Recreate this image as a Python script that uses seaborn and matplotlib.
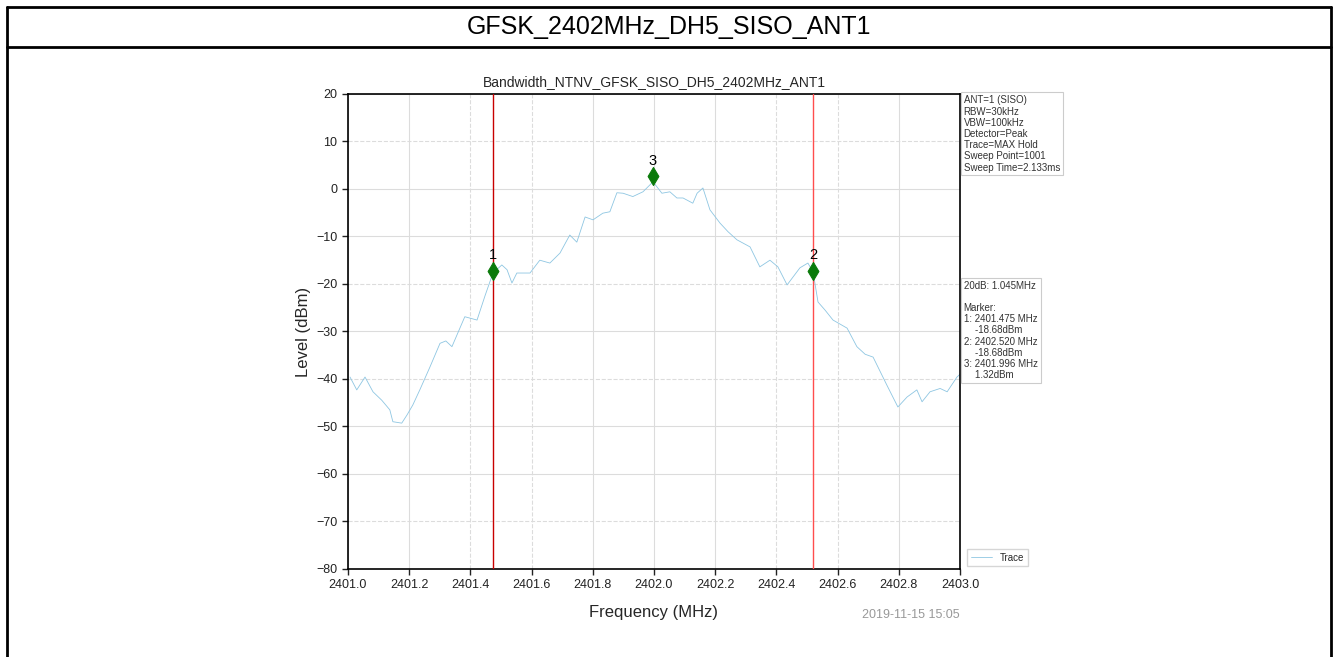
import matplotlib
matplotlib.use('Agg')
import matplotlib.pyplot as plt
import seaborn as sns
import pandas as pd
from matplotlib.lines import Line2D

# trace
freq_mhz = [2401.007, 2401.029, 2401.056, 2401.082, 2401.111, 2401.137, 2401.147, 2401.176,
            2401.193, 2401.212, 2401.235, 2401.268, 2401.301, 2401.320, 2401.340, 2401.382,
            2401.405, 2401.422, 2401.448, 2401.474, 2401.503, 2401.520, 2401.536, 2401.552,
            2401.595, 2401.627, 2401.660, 2401.693, 2401.725, 2401.748, 2401.775, 2401.801,
            2401.833, 2401.856, 2401.879, 2401.899, 2401.931, 2401.964, 2401.997, 2402.026,
            2402.052, 2402.075, 2402.095, 2402.127, 2402.141, 2402.160, 2402.183, 2402.216,
            2402.242, 2402.271, 2402.314, 2402.346, 2402.379, 2402.405, 2402.435, 2402.477,
            2402.503, 2402.520, 2402.536, 2402.559, 2402.585, 2402.631, 2402.663, 2402.690,
            2402.716, 2402.761, 2402.797, 2402.827, 2402.859, 2402.876, 2402.902, 2402.935,
            2402.958, 2402.990, 2403.000]
level_dbm = [-39.6, -42.3, -39.6, -42.7, -44.5, -46.5, -49.0, -49.3,
             -47.6, -45.5, -42.3, -37.5, -32.5, -32.0, -33.2, -26.9,
             -27.3, -27.6, -22.5, -17.7, -16.0, -17.0, -19.8, -17.7,
             -17.7, -15.0, -15.6, -13.5, -9.7, -11.2, -5.9, -6.5,
             -5.1, -4.8, -0.8, -0.9, -1.6, -0.6, 1.5, -0.9,
             -0.6, -1.9, -1.9, -3.0, -0.9, 0.2, -4.4, -7.2,
             -9.0, -10.7, -12.2, -16.4, -15.0, -16.4, -20.2, -16.6,
             -15.6, -17.5, -23.8, -25.5, -27.6, -29.3, -33.2, -34.8,
             -35.4, -41.3, -45.9, -43.8, -42.3, -44.8, -42.7, -42.0,
             -42.7, -39.6, -39.0]

marker_ids = ['1', '2', '3']
marker_freq = [2401.475, 2402.520, 2401.996]
marker_level = [-17.2, -17.2, 2.7]
line_freq = [2401.475, 2402.520]

xticks = [2401.0, 2401.2, 2401.4, 2401.6, 2401.8, 2402.0, 2402.2, 2402.4, 2402.6, 2402.8, 2403.0]
yticks = [20, 10, 0, -10, -20, -30, -40, -50, -60, -70, -80]

header = 'GFSK_2402MHz_DH5_SISO_ANT1'
plot_title = 'Bandwidth_NTNV_GFSK_SISO_DH5_2402MHz_ANT1'
settings_text = ('ANT=1 (SISO)\nRBW=30kHz\nVBW=100kHz\nDetector=Peak\n'
                 'Trace=MAX Hold\nSweep Point=1001\nSweep Time=2.133ms')
marker_text = ('20dB: 1.045MHz\n\nMarker:\n1: 2401.475 MHz\n    -18.68dBm\n'
               '2: 2402.520 MHz\n    -18.68dBm\n3: 2401.996 MHz\n    1.32dBm')
timestamp = '2019-11-15 15:05'

sns.set_theme(style='white')
plt.rcParams['font.family'] = ['Liberation Sans', 'DejaVu Sans']

df = pd.DataFrame({'Frequency': freq_mhz, 'Level': level_dbm})
mk = pd.DataFrame({'Frequency': marker_freq, 'Level': marker_level, 'id': marker_ids})

fig = plt.figure(figsize=(13.38, 6.57), dpi=100)
ax = fig.add_axes([0.260, 0.134, 0.4575, 0.723])

sns.lineplot(ax=ax, data=df, x='Frequency', y='Level', sort=False, color='#8ec6e2',
             linewidth=0.6, label='Trace')

for i, f in enumerate(line_freq):
    ax.axvline(f, color='#c80000' if i == 0 else '#ff4d4d', linewidth=1.0, zorder=3)

sns.scatterplot(ax=ax, data=mk, x='Frequency', y='Level', marker='d', s=85,
                color='#0a7a0a', edgecolor='#0a7a0a', zorder=5, legend=False)
for _, r in mk.iterrows():
    ax.annotate(r['id'], (r['Frequency'], r['Level']), xytext=(0, 6), textcoords='offset points',
                ha='center', va='bottom', fontsize=10.5, color='black')

ax.set_xlim(2401.0, 2403.0)
ax.set_ylim(-80, 20)
ax.set_xticks(xticks)
ax.set_yticks(yticks)
ax.set_xticklabels([f'{t:.1f}' for t in xticks])
ax.tick_params(axis='both', labelsize=9, direction='out', length=4, width=1,
               left=True, bottom=True, colors='#222222')

ax.grid(True, color='#dcdcdc', linewidth=0.8)
# some grid lines in the reference are dashed
for i, gl in enumerate(ax.get_xgridlines()):
    if xticks[i] in (2401.4, 2401.6, 2402.4, 2402.6):
        gl.set_linestyle('--')
for i, gl in enumerate(ax.get_ygridlines()):
    if yticks[i] in (10, -20, -40, -70):
        gl.set_linestyle('--')

for s in ax.spines.values():
    s.set_color('black')
    s.set_linewidth(1.2)

ax.set_xlabel('Frequency (MHz)', fontsize=12, labelpad=10)
ax.set_ylabel('Level (dBm)', fontsize=12)
ax.set_title(plot_title, fontsize=10, pad=6)

box = dict(boxstyle='square,pad=0.3', fc='white', ec='#cccccc', lw=0.8)
ax.text(1.006, 0.997, settings_text, transform=ax.transAxes, ha='left', va='top',
        fontsize=7, color='#333333', bbox=box, linespacing=1.15)
ax.text(1.006, 0.607, marker_text, transform=ax.transAxes, ha='left', va='top',
        fontsize=7, color='#333333', bbox=box, linespacing=1.15)

leg = ax.legend(loc='lower left', bbox_to_anchor=(1.003, -0.005), fontsize=7, frameon=True,
                handlelength=2.2, borderpad=0.4, fancybox=False)
leg.get_frame().set_edgecolor('#cccccc')

ax.text(1.0, -0.085, timestamp, transform=ax.transAxes, ha='right', va='top',
        fontsize=9, color='#999999')

# page frame and header row
fig.text(0.5, 1 - 27 / 657, header, ha='center', va='center', fontsize=18, color='black')
lw = 2.0
fig.add_artist(Line2D([7 / 1338, 1331 / 1338], [1 - 7 / 657, 1 - 7 / 657], color='black', lw=lw,
                      transform=fig.transFigure))
fig.add_artist(Line2D([7 / 1338, 1331 / 1338], [1 - 47 / 657, 1 - 47 / 657], color='black', lw=lw,
                      transform=fig.transFigure))
fig.add_artist(Line2D([7 / 1338, 7 / 1338], [0, 1 - 7 / 657], color='black', lw=lw,
                      transform=fig.transFigure))
fig.add_artist(Line2D([1331 / 1338, 1331 / 1338], [0, 1 - 7 / 657], color='black', lw=lw,
                      transform=fig.transFigure))

fig.savefig('out.png', dpi=100)
plt.close()
